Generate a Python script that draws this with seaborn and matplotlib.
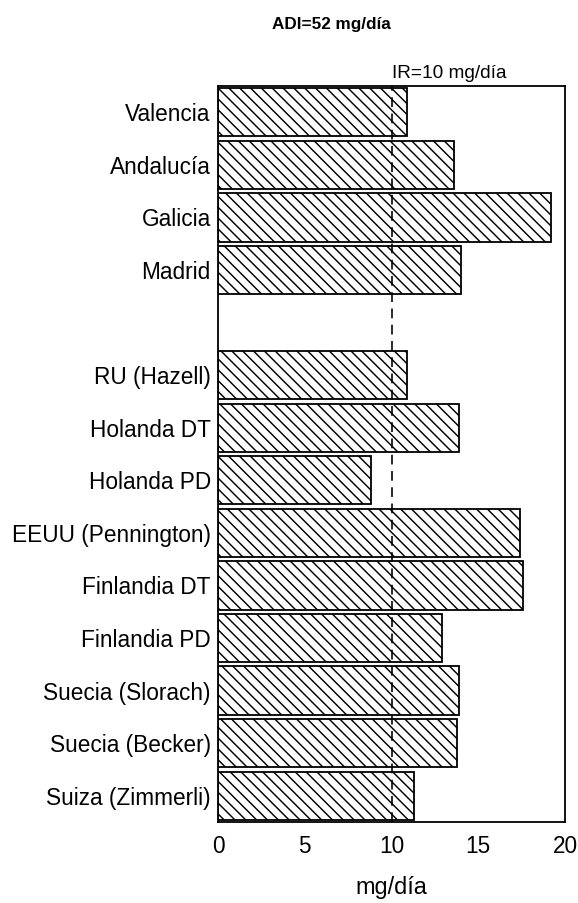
import numpy as np
import pandas as pd
import matplotlib
matplotlib.use("Agg")
import matplotlib.pyplot as plt
import seaborn as sns

# regiones de España (arriba) y otros estudios (abajo), mg/día
spain_labels = ["Valencia", "Andalucía", "Galicia", "Madrid"]
spain_values = [10.9, 13.6, 19.2, 14.0]

other_labels = ["RU (Hazell)", "Holanda DT", "Holanda PD", "EEUU (Pennington)",
                "Finlandia DT", "Finlandia PD", "Suecia (Slorach)",
                "Suecia (Becker)", "Suiza (Zimmerli)"]
other_values = [10.9, 13.9, 8.8, 17.4, 17.6, 12.9, 13.9, 13.8, 11.3]

ir_value = 10
x_ticks = [0, 5, 10, 15, 20]

df = pd.DataFrame({"label": spain_labels + other_labels,
                   "value": spain_values + other_values})
# empty slot between the two groups
order = spain_labels + [""] + other_labels

sns.set_theme(style="white")
plt.rcParams["font.family"] = ["Liberation Sans", "DejaVu Sans"]
plt.rcParams["hatch.linewidth"] = 0.8
plt.rcParams["hatch.color"] = "black"
plt.rcParams["text.color"] = "black"
plt.rcParams["xtick.color"] = "black"
plt.rcParams["ytick.color"] = "black"
plt.rcParams["axes.labelcolor"] = "black"

fig = plt.figure(figsize=(578 / 130, 903 / 130), dpi=130)
ax = fig.add_axes([218 / 578, 81 / 903, 347 / 578, 736 / 903])

sns.barplot(data=df, x="value", y="label", order=order, orient="h", ax=ax,
            color="white", edgecolor="black", linewidth=1.0, width=0.92,
            hatch="\\\\\\\\", saturation=1)

ax.axvline(ir_value, color="black", lw=0.9, ls=(0, (6, 4)), zorder=5)
ax.annotate("IR=10 mg/día", xy=(ir_value, 1), xycoords=("data", "axes fraction"),
            xytext=(0, 2), textcoords="offset points", ha="left", va="bottom",
            fontsize=10.5)

ax.set_xlim(0, 20)
ax.set_xticks(x_ticks)
ax.set_xticklabels([str(t) for t in x_ticks])
ax.tick_params(axis="both", length=0, labelsize=12.5)
ax.tick_params(axis="x", pad=7)
ax.tick_params(axis="y", pad=4)
ax.set_ylabel("")
ax.set_xlabel("mg/día", fontsize=13, labelpad=10)

for s in ax.spines.values():
    s.set_visible(True)
    s.set_color("black")
    s.set_linewidth(1.0)

fig.text(331 / 578, 1 - 25 / 903, "ADI=52 mg/día", ha="center", va="center",
         fontsize=9.5, fontweight="bold")

fig.savefig("out.png", dpi=130, facecolor="white")
